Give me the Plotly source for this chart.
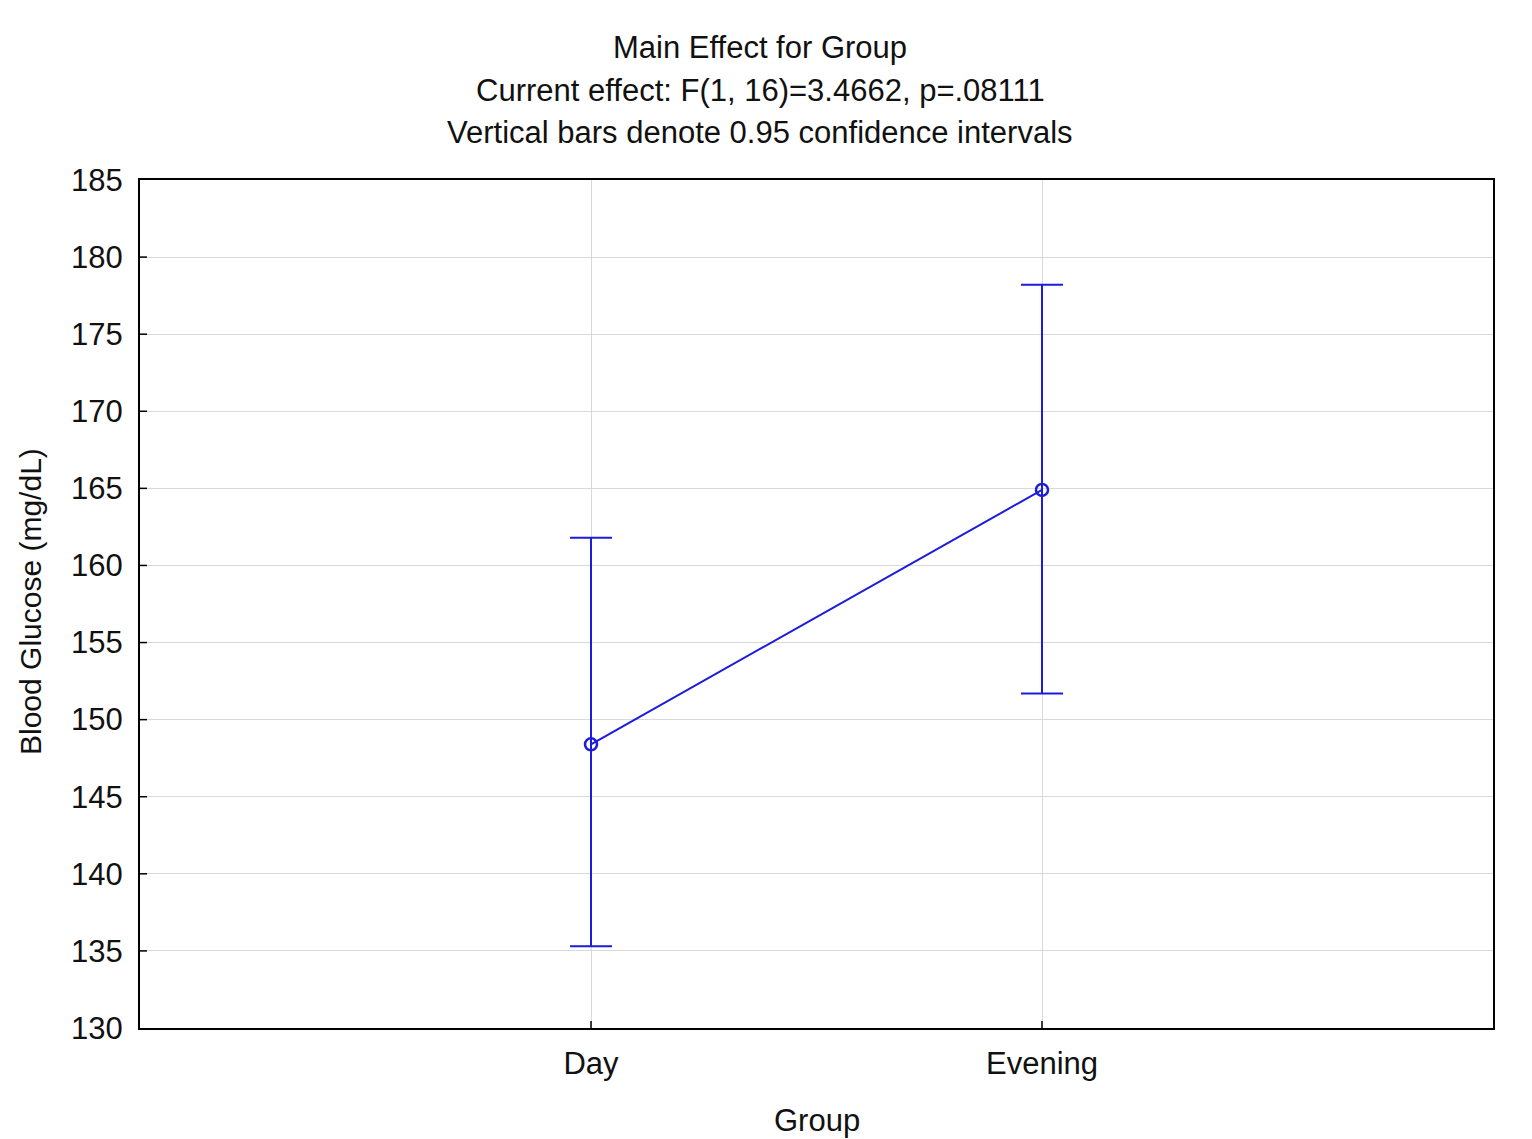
import plotly.graph_objects as go

groups = ["Day", "Evening"]
means = [148.4, 164.9]
upper = [161.8, 178.2]
lower = [135.3, 151.7]
y_ticks = [130, 135, 140, 145, 150, 155, 160, 165, 170, 175, 180, 185]

title_lines = [
    "Main Effect for Group",
    "Current effect: F(1, 16)=3.4662, p=.08111",
    "Vertical bars denote 0.95 confidence intervals",
]
x_title = "Group"
y_title = "Blood Glucose (mg/dL)"

err_plus = [u - m for u, m in zip(upper, means)]
err_minus = [m - l for m, l in zip(means, lower)]

blue = "#1c1cd9"
font = "Liberation Sans, Arial, sans-serif"
PW, PH = 1353, 848

fig = go.Figure()
fig.add_trace(go.Scatter(
    x=groups, y=means, mode="lines+markers",
    line=dict(color=blue, width=2),
    marker=dict(symbol="circle-open", size=12, color=blue, line=dict(width=2.5, color=blue)),
    error_y=dict(type="data", symmetric=False, array=err_plus, arrayminus=err_minus,
                 color=blue, thickness=2, width=21),
    showlegend=False,
))

# inward tick marks
for v in y_ticks[1:-1]:
    fig.add_shape(type="line", xref="paper", yref="y", xsizemode="pixel", xanchor=0,
                  x0=0, x1=7, y0=v, y1=v, line=dict(color="black", width=1.5))
for g in groups:
    fig.add_shape(type="line", xref="x", yref="paper", ysizemode="pixel", yanchor=0,
                  y0=0, y1=7, x0=g, x1=g, line=dict(color="black", width=1.5))

annots = []
for i, t in enumerate(title_lines):
    annots.append(dict(text=t, xref="paper", yref="paper",
                       x=(760 - 140) / PW, y=1 + (180 - (48 + 42 * i)) / PH,
                       xanchor="center", yanchor="middle", showarrow=False,
                       font=dict(size=31, color="#111", family=font)))
annots.append(dict(text=x_title, xref="paper", yref="paper",
                   x=0.5, y=-(1120 - 1028) / PH, xanchor="center", yanchor="middle",
                   showarrow=False, font=dict(size=31, color="#111", family=font)))
annots.append(dict(text=y_title, xref="paper", yref="paper", textangle=-90,
                   x=-(140 - 30) / PW, y=(1028 - 602) / PH, xanchor="center", yanchor="middle",
                   showarrow=False, font=dict(size=30, color="#111", family=font)))
fig.update_layout(annotations=annots)

fig.update_layout(
    width=1532, height=1139,
    margin=dict(l=140, r=39, t=180, b=111),
    paper_bgcolor="white", plot_bgcolor="white",
    font=dict(family=font, size=31, color="#111"),
    xaxis=dict(
        type="category", range=[-1, 2], showgrid=True, gridcolor="#d9d9d9", gridwidth=1,
        showline=True, linecolor="black", linewidth=2, mirror=True,
        ticks="", ticklabelstandoff=7, automargin=False,
        tickfont=dict(size=31, family=font, color="#111"),
        zeroline=False,
    ),
    yaxis=dict(
        range=[130, 185], tickvals=y_ticks, showgrid=True, gridcolor="#d9d9d9", gridwidth=1,
        showline=True, linecolor="black", linewidth=2, mirror=True,
        ticks="", ticklabelstandoff=9, automargin=False,
        tickfont=dict(size=31, family=font, color="#111"),
        zeroline=False,
    ),
)

fig.write_html("out.html")
